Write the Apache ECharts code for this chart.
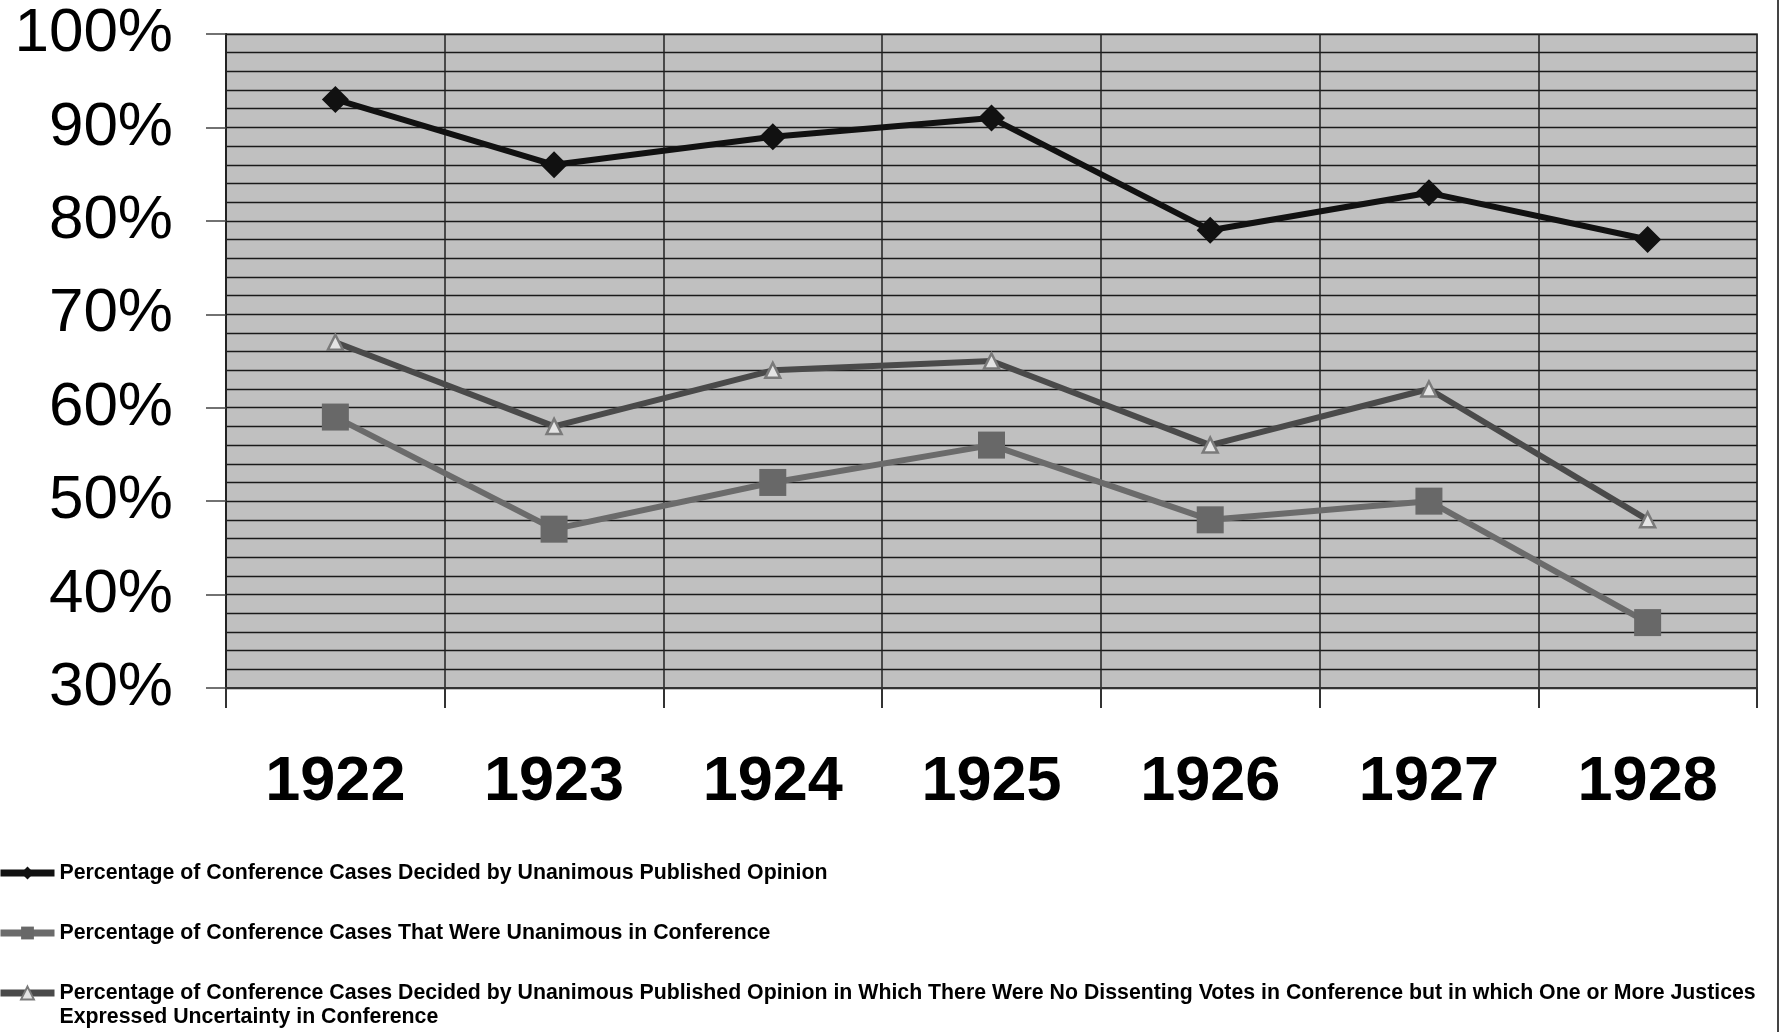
<!DOCTYPE html>
<html>
<head>
<meta charset="utf-8">
<script src="https://cdn.jsdelivr.net/npm/echarts@6/dist/echarts.min.js"></script>
<style>
  html, body { margin: 0; padding: 0; background: #ffffff; }
  #chart { width: 1786px; height: 1032px; }
</style>
</head>
<body>
<div id="chart"></div>
<script>
// Conference voting data, 1922–1928 terms (percent of conference cases)
const years = ['1922', '1923', '1924', '1925', '1926', '1927', '1928'];

const unanimousPublished = [93, 86, 89, 91, 79, 83, 78];
const unanimousInConference = [59, 47, 52, 56, 48, 50, 37];
const noDissentButUncertain = [67, 58, 64, 65, 56, 62, 48];

const seriesNames = [
  'Percentage of Conference Cases Decided by Unanimous Published Opinion',
  'Percentage of Conference Cases That Were Unanimous in Conference',
  'Percentage of Conference Cases Decided by Unanimous Published Opinion in Which There Were No Dissenting Votes in Conference but in which One or More Justices\nExpressed Uncertainty in Conference'
];

const yMin = 30, yMax = 100;

const FONT = '"Liberation Sans", Arial, sans-serif';

// one legend block per series so each row sits at its own height
function legendRow(name, top, formatter) {
  const row = {
    orient: 'vertical',
    left: -3,
    top: top,
    padding: 0,
    itemWidth: 54,
    itemHeight: 16,
    lineStyle: { width: 7 },
    textStyle: { fontFamily: FONT, fontSize: 21.3, fontWeight: 'bold', color: '#000', lineHeight: 24 },
    data: [{ name: name }]
  };
  if (formatter) row.formatter = formatter;
  return row;
}

const chart = echarts.init(document.getElementById('chart'), null, { renderer: 'canvas' });

chart.setOption({
  backgroundColor: '#ffffff',
  animation: false,
  grid: {
    left: 226, right: 29, top: 34, bottom: 344,
    show: true,
    backgroundColor: '#c0c0c0',
    borderColor: '#8a8a8a',
    borderWidth: 2
  },
  legend: [
    legendRow(seriesNames[0], 861),
    legendRow(seriesNames[1], 921),
    // leading blank line keeps the first text line level with the icon
    legendRow(seriesNames[2], 957, name => '\n' + name)
  ],
  xAxis: {
    type: 'category',
    data: years,
    boundaryGap: true,
    axisLine: { show: true, lineStyle: { color: '#333', width: 2 } },
    axisTick: { show: true, length: 20, inside: false, lineStyle: { color: '#333', width: 2 } },
    axisLabel: { margin: 63, fontFamily: FONT, fontSize: 63, fontWeight: 'bold', color: '#000' },
    splitLine: { show: true, lineStyle: { color: '#222', width: 1.5 } }
  },
  yAxis: [
    {
      type: 'value',
      min: yMin, max: yMax, interval: 10,
      axisLine: { show: true, lineStyle: { color: '#222', width: 2 } },
      axisTick: { show: true, length: 20, lineStyle: { color: '#444', width: 1.5 } },
      axisLabel: {
        margin: 53, fontFamily: FONT, fontSize: 62, color: '#000',
        formatter: v => v + '%'
      },
      splitLine: { show: false }
    },
    {
      type: 'value',
      min: yMin, max: yMax, interval: 2,
      position: 'left',
      axisLine: { show: false },
      axisTick: { show: false },
      axisLabel: { show: false },
      splitLine: { show: true, lineStyle: { color: '#1a1a1a', width: 1.3 } }
    }
  ],
  series: [
    {
      name: seriesNames[0],
      type: 'line',
      data: unanimousPublished,
      yAxisIndex: 0,
      z: 5,
      symbol: 'diamond',
      symbolSize: 27,
      lineStyle: { color: '#111111', width: 6 },
      itemStyle: { color: '#111111' }
    },
    {
      name: seriesNames[1],
      type: 'line',
      data: unanimousInConference,
      yAxisIndex: 0,
      z: 3,
      symbol: 'rect',
      symbolSize: 27,
      lineStyle: { color: '#6b6b6b', width: 6 },
      itemStyle: { color: '#686868' }
    },
    {
      name: seriesNames[2],
      type: 'line',
      data: noDissentButUncertain,
      yAxisIndex: 0,
      z: 4,
      symbol: 'triangle',
      symbolSize: 15,
      lineStyle: { color: '#4a4a4a', width: 6 },
      itemStyle: { color: '#e4e4e4', borderColor: '#7a7a7a', borderWidth: 2.5 }
    }
  ],
  graphic: [
    {
      type: 'line',
      shape: { x1: 1778, y1: 0, x2: 1778, y2: 1032 },
      style: { stroke: '#444', lineWidth: 2 }
    }
  ]
});
</script>
</body>
</html>
